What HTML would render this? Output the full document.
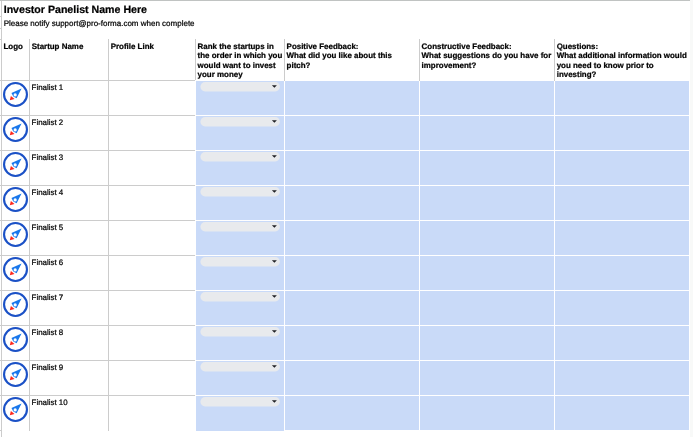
<!DOCTYPE html>
<html><head><meta charset="utf-8"><title>Sheet</title>
<style>
html,body{margin:0;padding:0;background:#fff;}
body{width:693px;height:437px;position:relative;overflow:hidden;font-family:"Liberation Sans",sans-serif;color:#000;}
.a{position:absolute;}
.g{position:absolute;background:#cccccc;}
.b{position:absolute;background:#c9daf8;}
.layer{position:absolute;left:0;top:0;width:693px;height:437px;will-change:transform;}
.t,.h{text-rendering:geometricPrecision;-webkit-text-stroke:0.22px #000;}
.t{position:absolute;font-size:8px;line-height:9.4px;white-space:nowrap;}
.h{font-weight:bold;}
</style></head><body>

<div class="a" style="left:690px;top:0;width:3px;height:437px;background:#f8f9f8"></div>
<div class="a" style="left:0;top:0;width:690px;height:1px;background:#c0c3c2"></div>
<div class="g" style="left:1px;top:1px;width:1px;height:436px"></div>
<div class="g" style="left:0;top:16px;width:1px;height:1px"></div>
<div class="g" style="left:0;top:28px;width:1px;height:1px"></div>
<div class="g" style="left:0;top:39px;width:1px;height:1px"></div>
<div class="g" style="left:0;top:80px;width:1px;height:1px"></div>
<div class="g" style="left:0;top:115px;width:1px;height:1px"></div>
<div class="g" style="left:0;top:150px;width:1px;height:1px"></div>
<div class="g" style="left:0;top:185px;width:1px;height:1px"></div>
<div class="g" style="left:0;top:220px;width:1px;height:1px"></div>
<div class="g" style="left:0;top:255px;width:1px;height:1px"></div>
<div class="g" style="left:0;top:290px;width:1px;height:1px"></div>
<div class="g" style="left:0;top:325px;width:1px;height:1px"></div>
<div class="g" style="left:0;top:360px;width:1px;height:1px"></div>
<div class="g" style="left:0;top:395px;width:1px;height:1px"></div>
<div class="g" style="left:0;top:430px;width:1px;height:1px"></div>
<div class="g" style="left:29px;top:39px;width:1px;height:392px"></div>
<div class="g" style="left:108px;top:39px;width:1px;height:392px"></div>
<div class="g" style="left:195px;top:39px;width:1px;height:41px"></div>
<div class="g" style="left:284px;top:39px;width:1px;height:42px"></div>
<div class="g" style="left:419px;top:39px;width:1px;height:42px"></div>
<div class="g" style="left:554px;top:39px;width:1px;height:42px"></div>
<div class="g" style="left:2px;top:80px;width:193px;height:1px"></div>
<div class="g" style="left:2px;top:115px;width:193px;height:1px"></div>
<div class="g" style="left:2px;top:150px;width:193px;height:1px"></div>
<div class="g" style="left:2px;top:185px;width:193px;height:1px"></div>
<div class="g" style="left:2px;top:220px;width:193px;height:1px"></div>
<div class="g" style="left:2px;top:255px;width:193px;height:1px"></div>
<div class="g" style="left:2px;top:290px;width:193px;height:1px"></div>
<div class="g" style="left:2px;top:325px;width:193px;height:1px"></div>
<div class="g" style="left:2px;top:360px;width:193px;height:1px"></div>
<div class="g" style="left:2px;top:395px;width:193px;height:1px"></div>
<div class="b" style="left:196px;top:81px;width:88px;height:34px"></div>
<div class="b" style="left:285px;top:81px;width:134px;height:34px"></div>
<div class="b" style="left:420px;top:81px;width:134px;height:34px"></div>
<div class="b" style="left:555px;top:81px;width:134px;height:34px"></div>
<svg class="a" style="left:196px;top:81px" width="88" height="14" viewBox="0 0 88 14"><rect x="4.4" y="1.1" width="79.5" height="9.3" rx="4.65" fill="#e8eaed"/><path d="M75.9 4.3 L80.9 4.3 L78.4 6.85 Z" fill="#202124"/></svg>
<div class="b" style="left:196px;top:116px;width:88px;height:34px"></div>
<div class="b" style="left:285px;top:116px;width:134px;height:34px"></div>
<div class="b" style="left:420px;top:116px;width:134px;height:34px"></div>
<div class="b" style="left:555px;top:116px;width:134px;height:34px"></div>
<svg class="a" style="left:196px;top:116px" width="88" height="14" viewBox="0 0 88 14"><rect x="4.4" y="1.1" width="79.5" height="9.3" rx="4.65" fill="#e8eaed"/><path d="M75.9 4.3 L80.9 4.3 L78.4 6.85 Z" fill="#202124"/></svg>
<div class="b" style="left:196px;top:151px;width:88px;height:34px"></div>
<div class="b" style="left:285px;top:151px;width:134px;height:34px"></div>
<div class="b" style="left:420px;top:151px;width:134px;height:34px"></div>
<div class="b" style="left:555px;top:151px;width:134px;height:34px"></div>
<svg class="a" style="left:196px;top:151px" width="88" height="14" viewBox="0 0 88 14"><rect x="4.4" y="1.1" width="79.5" height="9.3" rx="4.65" fill="#e8eaed"/><path d="M75.9 4.3 L80.9 4.3 L78.4 6.85 Z" fill="#202124"/></svg>
<div class="b" style="left:196px;top:186px;width:88px;height:34px"></div>
<div class="b" style="left:285px;top:186px;width:134px;height:34px"></div>
<div class="b" style="left:420px;top:186px;width:134px;height:34px"></div>
<div class="b" style="left:555px;top:186px;width:134px;height:34px"></div>
<svg class="a" style="left:196px;top:186px" width="88" height="14" viewBox="0 0 88 14"><rect x="4.4" y="1.1" width="79.5" height="9.3" rx="4.65" fill="#e8eaed"/><path d="M75.9 4.3 L80.9 4.3 L78.4 6.85 Z" fill="#202124"/></svg>
<div class="b" style="left:196px;top:221px;width:88px;height:34px"></div>
<div class="b" style="left:285px;top:221px;width:134px;height:34px"></div>
<div class="b" style="left:420px;top:221px;width:134px;height:34px"></div>
<div class="b" style="left:555px;top:221px;width:134px;height:34px"></div>
<svg class="a" style="left:196px;top:221px" width="88" height="14" viewBox="0 0 88 14"><rect x="4.4" y="1.1" width="79.5" height="9.3" rx="4.65" fill="#e8eaed"/><path d="M75.9 4.3 L80.9 4.3 L78.4 6.85 Z" fill="#202124"/></svg>
<div class="b" style="left:196px;top:256px;width:88px;height:34px"></div>
<div class="b" style="left:285px;top:256px;width:134px;height:34px"></div>
<div class="b" style="left:420px;top:256px;width:134px;height:34px"></div>
<div class="b" style="left:555px;top:256px;width:134px;height:34px"></div>
<svg class="a" style="left:196px;top:256px" width="88" height="14" viewBox="0 0 88 14"><rect x="4.4" y="1.1" width="79.5" height="9.3" rx="4.65" fill="#e8eaed"/><path d="M75.9 4.3 L80.9 4.3 L78.4 6.85 Z" fill="#202124"/></svg>
<div class="b" style="left:196px;top:291px;width:88px;height:34px"></div>
<div class="b" style="left:285px;top:291px;width:134px;height:34px"></div>
<div class="b" style="left:420px;top:291px;width:134px;height:34px"></div>
<div class="b" style="left:555px;top:291px;width:134px;height:34px"></div>
<svg class="a" style="left:196px;top:291px" width="88" height="14" viewBox="0 0 88 14"><rect x="4.4" y="1.1" width="79.5" height="9.3" rx="4.65" fill="#e8eaed"/><path d="M75.9 4.3 L80.9 4.3 L78.4 6.85 Z" fill="#202124"/></svg>
<div class="b" style="left:196px;top:326px;width:88px;height:34px"></div>
<div class="b" style="left:285px;top:326px;width:134px;height:34px"></div>
<div class="b" style="left:420px;top:326px;width:134px;height:34px"></div>
<div class="b" style="left:555px;top:326px;width:134px;height:34px"></div>
<svg class="a" style="left:196px;top:326px" width="88" height="14" viewBox="0 0 88 14"><rect x="4.4" y="1.1" width="79.5" height="9.3" rx="4.65" fill="#e8eaed"/><path d="M75.9 4.3 L80.9 4.3 L78.4 6.85 Z" fill="#202124"/></svg>
<div class="b" style="left:196px;top:361px;width:88px;height:34px"></div>
<div class="b" style="left:285px;top:361px;width:134px;height:34px"></div>
<div class="b" style="left:420px;top:361px;width:134px;height:34px"></div>
<div class="b" style="left:555px;top:361px;width:134px;height:34px"></div>
<svg class="a" style="left:196px;top:361px" width="88" height="14" viewBox="0 0 88 14"><rect x="4.4" y="1.1" width="79.5" height="9.3" rx="4.65" fill="#e8eaed"/><path d="M75.9 4.3 L80.9 4.3 L78.4 6.85 Z" fill="#202124"/></svg>
<div class="b" style="left:196px;top:396px;width:88px;height:35px"></div>
<div class="b" style="left:285px;top:396px;width:134px;height:34px"></div>
<div class="b" style="left:420px;top:396px;width:134px;height:34px"></div>
<div class="b" style="left:555px;top:396px;width:134px;height:34px"></div>
<svg class="a" style="left:196px;top:396px" width="88" height="14" viewBox="0 0 88 14"><rect x="4.4" y="1.1" width="79.5" height="9.3" rx="4.65" fill="#e8eaed"/><path d="M75.9 4.3 L80.9 4.3 L78.4 6.85 Z" fill="#202124"/></svg>
<div class="layer">
<div class="a h" style="left:3.7px;top:4.2px;font-size:10.62px;line-height:12px;white-space:nowrap">Investor Panelist Name Here</div>
<div class="t" style="left:3.7px;top:18.6px">Please notify support@pro-forma.com when complete</div>
<div class="t h" style="left:3.5px;top:42.4px;font-size:7.94px">Logo</div>
<div class="t h" style="left:31.7px;top:42.4px;font-size:7.94px">Startup Name</div>
<div class="t h" style="left:110.7px;top:42.4px;font-size:7.94px">Profile Link</div>
<div class="t h" style="left:197.6px;top:42.4px;font-size:7.94px">Rank the startups in</div>
<div class="t h" style="left:197.6px;top:51.4px;font-size:7.94px">the order in which you</div>
<div class="t h" style="left:197.6px;top:61.4px;font-size:7.94px">would want to invest</div>
<div class="t h" style="left:197.6px;top:70.4px;font-size:7.94px">your money</div>
<div class="t h" style="left:286.6px;top:42.4px;font-size:7.94px">Positive Feedback:</div>
<div class="t h" style="left:286.6px;top:51.4px;font-size:7.94px">What did you like about this</div>
<div class="t h" style="left:286.6px;top:61.4px;font-size:7.94px">pitch?</div>
<div class="t h" style="left:421.6px;top:42.4px;font-size:7.94px">Constructive Feedback:</div>
<div class="t h" style="left:421.6px;top:51.4px;font-size:7.94px">What suggestions do you have for</div>
<div class="t h" style="left:421.6px;top:61.4px;font-size:7.94px">improvement?</div>
<div class="t h" style="left:556.7px;top:42.4px;font-size:7.94px">Questions:</div>
<div class="t h" style="left:556.7px;top:51.4px;font-size:7.94px">What additional information would</div>
<div class="t h" style="left:556.7px;top:61.4px;font-size:7.94px">you need to know prior to</div>
<div class="t h" style="left:556.7px;top:70.4px;font-size:7.94px">investing?</div>
<svg class="a" style="left:0px;top:79px" width="31" height="31" viewBox="0 0 31 31"><circle cx="15.5" cy="15.5" r="11.45" fill="#fff" stroke="#1b51c6" stroke-width="2.1"/><path d="M9.8 21.3 L10.9 16.9 L14.5 20.1 Z" fill="#fd281c"/><path d="M21.55 9.4 L11.45 14.1 L13.35 17.45 L16.6 19.3 Z" fill="#1a78ec"/><circle cx="15.15" cy="15.9" r="1.6" fill="#fff"/></svg>
<div class="t" style="left:31.6px;top:83.3px;font-size:7.92px">Finalist 1</div>
<svg class="a" style="left:0px;top:114px" width="31" height="31" viewBox="0 0 31 31"><circle cx="15.5" cy="15.5" r="11.45" fill="#fff" stroke="#1b51c6" stroke-width="2.1"/><path d="M9.8 21.3 L10.9 16.9 L14.5 20.1 Z" fill="#fd281c"/><path d="M21.55 9.4 L11.45 14.1 L13.35 17.45 L16.6 19.3 Z" fill="#1a78ec"/><circle cx="15.15" cy="15.9" r="1.6" fill="#fff"/></svg>
<div class="t" style="left:31.6px;top:118.3px;font-size:7.92px">Finalist 2</div>
<svg class="a" style="left:0px;top:149px" width="31" height="31" viewBox="0 0 31 31"><circle cx="15.5" cy="15.5" r="11.45" fill="#fff" stroke="#1b51c6" stroke-width="2.1"/><path d="M9.8 21.3 L10.9 16.9 L14.5 20.1 Z" fill="#fd281c"/><path d="M21.55 9.4 L11.45 14.1 L13.35 17.45 L16.6 19.3 Z" fill="#1a78ec"/><circle cx="15.15" cy="15.9" r="1.6" fill="#fff"/></svg>
<div class="t" style="left:31.6px;top:153.3px;font-size:7.92px">Finalist 3</div>
<svg class="a" style="left:0px;top:184px" width="31" height="31" viewBox="0 0 31 31"><circle cx="15.5" cy="15.5" r="11.45" fill="#fff" stroke="#1b51c6" stroke-width="2.1"/><path d="M9.8 21.3 L10.9 16.9 L14.5 20.1 Z" fill="#fd281c"/><path d="M21.55 9.4 L11.45 14.1 L13.35 17.45 L16.6 19.3 Z" fill="#1a78ec"/><circle cx="15.15" cy="15.9" r="1.6" fill="#fff"/></svg>
<div class="t" style="left:31.6px;top:188.3px;font-size:7.92px">Finalist 4</div>
<svg class="a" style="left:0px;top:219px" width="31" height="31" viewBox="0 0 31 31"><circle cx="15.5" cy="15.5" r="11.45" fill="#fff" stroke="#1b51c6" stroke-width="2.1"/><path d="M9.8 21.3 L10.9 16.9 L14.5 20.1 Z" fill="#fd281c"/><path d="M21.55 9.4 L11.45 14.1 L13.35 17.45 L16.6 19.3 Z" fill="#1a78ec"/><circle cx="15.15" cy="15.9" r="1.6" fill="#fff"/></svg>
<div class="t" style="left:31.6px;top:223.3px;font-size:7.92px">Finalist 5</div>
<svg class="a" style="left:0px;top:254px" width="31" height="31" viewBox="0 0 31 31"><circle cx="15.5" cy="15.5" r="11.45" fill="#fff" stroke="#1b51c6" stroke-width="2.1"/><path d="M9.8 21.3 L10.9 16.9 L14.5 20.1 Z" fill="#fd281c"/><path d="M21.55 9.4 L11.45 14.1 L13.35 17.45 L16.6 19.3 Z" fill="#1a78ec"/><circle cx="15.15" cy="15.9" r="1.6" fill="#fff"/></svg>
<div class="t" style="left:31.6px;top:258.3px;font-size:7.92px">Finalist 6</div>
<svg class="a" style="left:0px;top:289px" width="31" height="31" viewBox="0 0 31 31"><circle cx="15.5" cy="15.5" r="11.45" fill="#fff" stroke="#1b51c6" stroke-width="2.1"/><path d="M9.8 21.3 L10.9 16.9 L14.5 20.1 Z" fill="#fd281c"/><path d="M21.55 9.4 L11.45 14.1 L13.35 17.45 L16.6 19.3 Z" fill="#1a78ec"/><circle cx="15.15" cy="15.9" r="1.6" fill="#fff"/></svg>
<div class="t" style="left:31.6px;top:293.3px;font-size:7.92px">Finalist 7</div>
<svg class="a" style="left:0px;top:324px" width="31" height="31" viewBox="0 0 31 31"><circle cx="15.5" cy="15.5" r="11.45" fill="#fff" stroke="#1b51c6" stroke-width="2.1"/><path d="M9.8 21.3 L10.9 16.9 L14.5 20.1 Z" fill="#fd281c"/><path d="M21.55 9.4 L11.45 14.1 L13.35 17.45 L16.6 19.3 Z" fill="#1a78ec"/><circle cx="15.15" cy="15.9" r="1.6" fill="#fff"/></svg>
<div class="t" style="left:31.6px;top:328.3px;font-size:7.92px">Finalist 8</div>
<svg class="a" style="left:0px;top:359px" width="31" height="31" viewBox="0 0 31 31"><circle cx="15.5" cy="15.5" r="11.45" fill="#fff" stroke="#1b51c6" stroke-width="2.1"/><path d="M9.8 21.3 L10.9 16.9 L14.5 20.1 Z" fill="#fd281c"/><path d="M21.55 9.4 L11.45 14.1 L13.35 17.45 L16.6 19.3 Z" fill="#1a78ec"/><circle cx="15.15" cy="15.9" r="1.6" fill="#fff"/></svg>
<div class="t" style="left:31.6px;top:363.3px;font-size:7.92px">Finalist 9</div>
<svg class="a" style="left:0px;top:394px" width="31" height="31" viewBox="0 0 31 31"><circle cx="15.5" cy="15.5" r="11.45" fill="#fff" stroke="#1b51c6" stroke-width="2.1"/><path d="M9.8 21.3 L10.9 16.9 L14.5 20.1 Z" fill="#fd281c"/><path d="M21.55 9.4 L11.45 14.1 L13.35 17.45 L16.6 19.3 Z" fill="#1a78ec"/><circle cx="15.15" cy="15.9" r="1.6" fill="#fff"/></svg>
<div class="t" style="left:31.6px;top:398.3px;font-size:7.92px">Finalist 10</div>
</div>
</body></html>
